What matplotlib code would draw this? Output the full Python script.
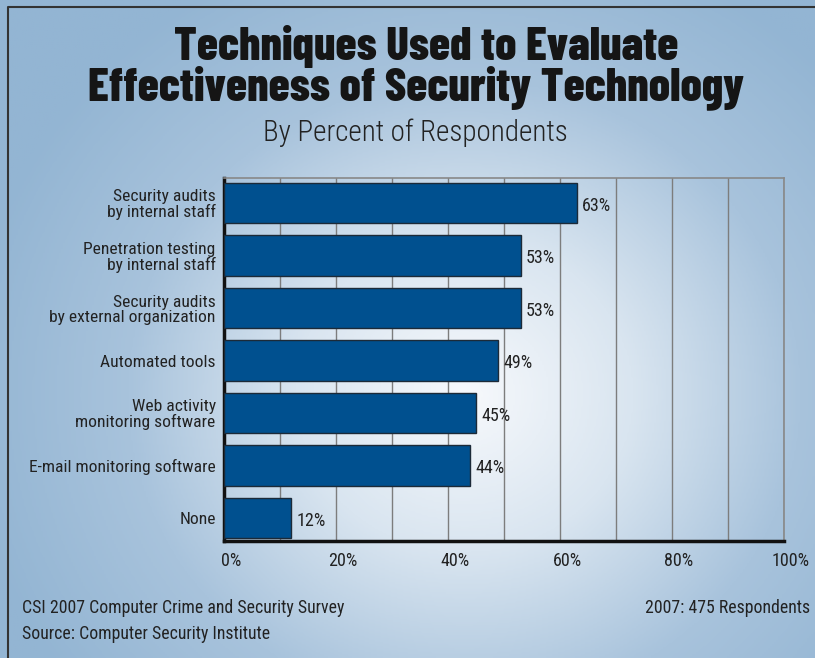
import numpy as np
import matplotlib
matplotlib.use("Agg")
from matplotlib import pyplot as plt
from matplotlib.colors import LinearSegmentedColormap
from matplotlib.transforms import ScaledTranslation

# Survey results, top to bottom
techniques = [
    "Security audits\nby internal staff",
    "Penetration testing\nby internal staff",
    "Security audits\nby external organization",
    "Automated tools",
    "Web activity\nmonitoring software",
    "E-mail monitoring software",
    "None",
]
percents = [63, 53, 53, 49, 45, 44, 12]
tick_values = [0, 20, 40, 60, 80, 100]
tick_labels = ["0%", "20%", "40%", "60%", "80%", "100%"]

FONT = "Roboto Condensed"
TITLE_FONT = "Barlow Condensed"
BAR_COLOR = "#00508f"
TEXT_COLOR = "#222222"

fig = plt.figure(figsize=(8.15, 6.58), dpi=100)

# soft radial backdrop, white in the middle fading to steel blue
bg = fig.add_axes([0, 0, 1, 1], zorder=0)
xx, yy = np.meshgrid(np.linspace(0, 1, 400), np.linspace(0, 1, 330))
r = np.sqrt(((xx - 0.57) / 0.62) ** 2 + ((yy - 0.40) / 0.72) ** 2)
r = np.clip(r, 0, 1)
cmap = LinearSegmentedColormap.from_list("bluefade", ["#f7f9fc", "#d9e5f0", "#a8c3dc", "#93b5d3"], N=256)
bg.imshow(r, cmap=cmap, extent=[0, 1, 0, 1], origin="lower", aspect="auto", vmin=0, vmax=1)
bg.set_xlim(0, 1)
bg.set_ylim(0, 1)
bg.axis("off")
# frame line on top and left edges
bg.plot([8 / 815, 8 / 815, 1.0], [0, 1 - 7 / 658, 1 - 7 / 658], color="#333333", lw=1.5,
        solid_capstyle="butt")

ax = fig.add_axes([224 / 815, 1 - 541 / 658, 560 / 815, 363 / 658], zorder=1)
ax.set_facecolor("none")

y = np.arange(len(techniques))
ax.barh(y, percents, height=0.77, color=BAR_COLOR, edgecolor="#1c2a38", linewidth=1.0, zorder=3)

for yi, p in zip(y, percents):
    ax.text(p + 0.9, yi + 0.05, f"{p}%", va="center", ha="left", fontsize=13,
            family=FONT, color=TEXT_COLOR, zorder=4)

ax.set_xlim(0, 100)
ax.set_ylim(6.44, -0.48)
ax.set_xticks(tick_values)
ax.set_xticklabels(tick_labels, fontsize=13, family=FONT, color=TEXT_COLOR)
ax.set_xticks(np.arange(10, 100, 10), minor=True)
ax.tick_params(axis="x", which="both", length=0, pad=8)
offset = ScaledTranslation(7 / 100, 0, fig.dpi_scale_trans)
for lab in ax.get_xticklabels():
    lab.set_transform(lab.get_transform() + offset)

ax.set_yticks(y)
ax.set_yticklabels(techniques, fontsize=12.6, family=FONT, color=TEXT_COLOR, linespacing=1.0)
ax.tick_params(axis="y", length=0, pad=6)

ax.grid(axis="x", which="both", color="#7d7d7d", lw=1.0, zorder=1)
ax.set_axisbelow(True)

for side in ["left", "bottom"]:
    ax.spines[side].set_color("#111111")
    ax.spines[side].set_linewidth(2.5)
for side in ["top", "right"]:
    ax.spines[side].set_color("#888888")
    ax.spines[side].set_linewidth(1.2)

fig.text(0.523, 1 - 46 / 658, "Techniques Used to Evaluate", ha="center", va="center",
         fontsize=34, fontweight=800, family=TITLE_FONT, color="#151515")
fig.text(0.511, 1 - 88 / 658, "Effectiveness of Security Technology", ha="center", va="center",
         fontsize=34, fontweight=800, family=TITLE_FONT, color="#151515")
fig.text(0.510, 1 - 133 / 658, "By Percent of Respondents", ha="center", va="center",
         fontsize=21, family=FONT, fontweight=300, color=TEXT_COLOR)

fig.text(22 / 815, 1 - 608 / 658, "CSI 2007 Computer Crime and Security Survey", ha="left",
         va="center", fontsize=12.8, family=FONT, color=TEXT_COLOR)
fig.text(22 / 815, 1 - 634 / 658, "Source: Computer Security Institute", ha="left",
         va="center", fontsize=12.8, family=FONT, color=TEXT_COLOR)
fig.text(810 / 815, 1 - 608 / 658, "2007: 475 Respondents", ha="right",
         va="center", fontsize=12.8, family=FONT, color=TEXT_COLOR)

fig.savefig("out.png", dpi=100)
